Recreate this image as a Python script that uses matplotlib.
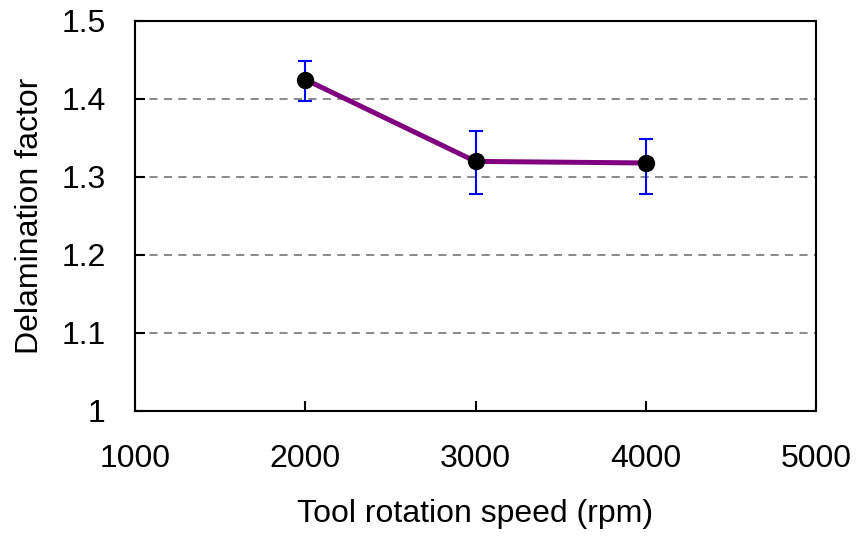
import matplotlib
matplotlib.use("Agg")
import matplotlib.pyplot as plt

# ============================================================
# Data
# ============================================================

speed = [2000, 3000, 4000]
delam = [1.425, 1.320, 1.318]
err_low = [0.027, 0.042, 0.040]
err_high = [0.024, 0.039, 0.031]

x_ticks = [1000, 2000, 3000, 4000, 5000]
y_ticks = [1.0, 1.1, 1.2, 1.3, 1.4, 1.5]
y_labels = ["1", "1.1", "1.2", "1.3", "1.4", "1.5"]

plt.rcParams["font.family"] = ["Liberation Sans", "DejaVu Sans"]

fig = plt.figure(figsize=(8.57, 5.42), dpi=100)
ax = fig.add_axes([135 / 857, 1 - 411 / 542, (816 - 135) / 857, (411 - 21) / 542])

# gridlines only at interior y ticks
for yv in y_ticks[1:-1]:
    ax.axhline(yv, color="#808080", lw=1.3, ls=(0, (4.5, 3.5)), zorder=1)

ax.plot(speed, delam, color="#800080", lw=3.6, zorder=2)
ax.errorbar(speed, delam, yerr=[err_low, err_high], fmt="none",
            ecolor="#0000ff", elinewidth=1.5, capsize=5, capthick=1.5, zorder=3)
ax.plot(speed, delam, "o", color="black", ms=11.5, zorder=4)

ax.set_xlim(1000, 5000)
ax.set_ylim(1.0, 1.5)
ax.set_xticks(x_ticks)
ax.set_yticks(y_ticks)
ax.set_yticklabels(y_labels)
ax.tick_params(direction="in", length=7, width=1.5, labelsize=23)
ax.tick_params(axis="x", pad=24)
ax.tick_params(axis="y", pad=21)
for s in ax.spines.values():
    s.set_linewidth(1.5)

ax.set_xlabel("Tool rotation speed (rpm)", fontsize=23, labelpad=18)
ax.set_ylabel("Delamination factor", fontsize=23, labelpad=12)

fig.savefig("out.png", dpi=100)
